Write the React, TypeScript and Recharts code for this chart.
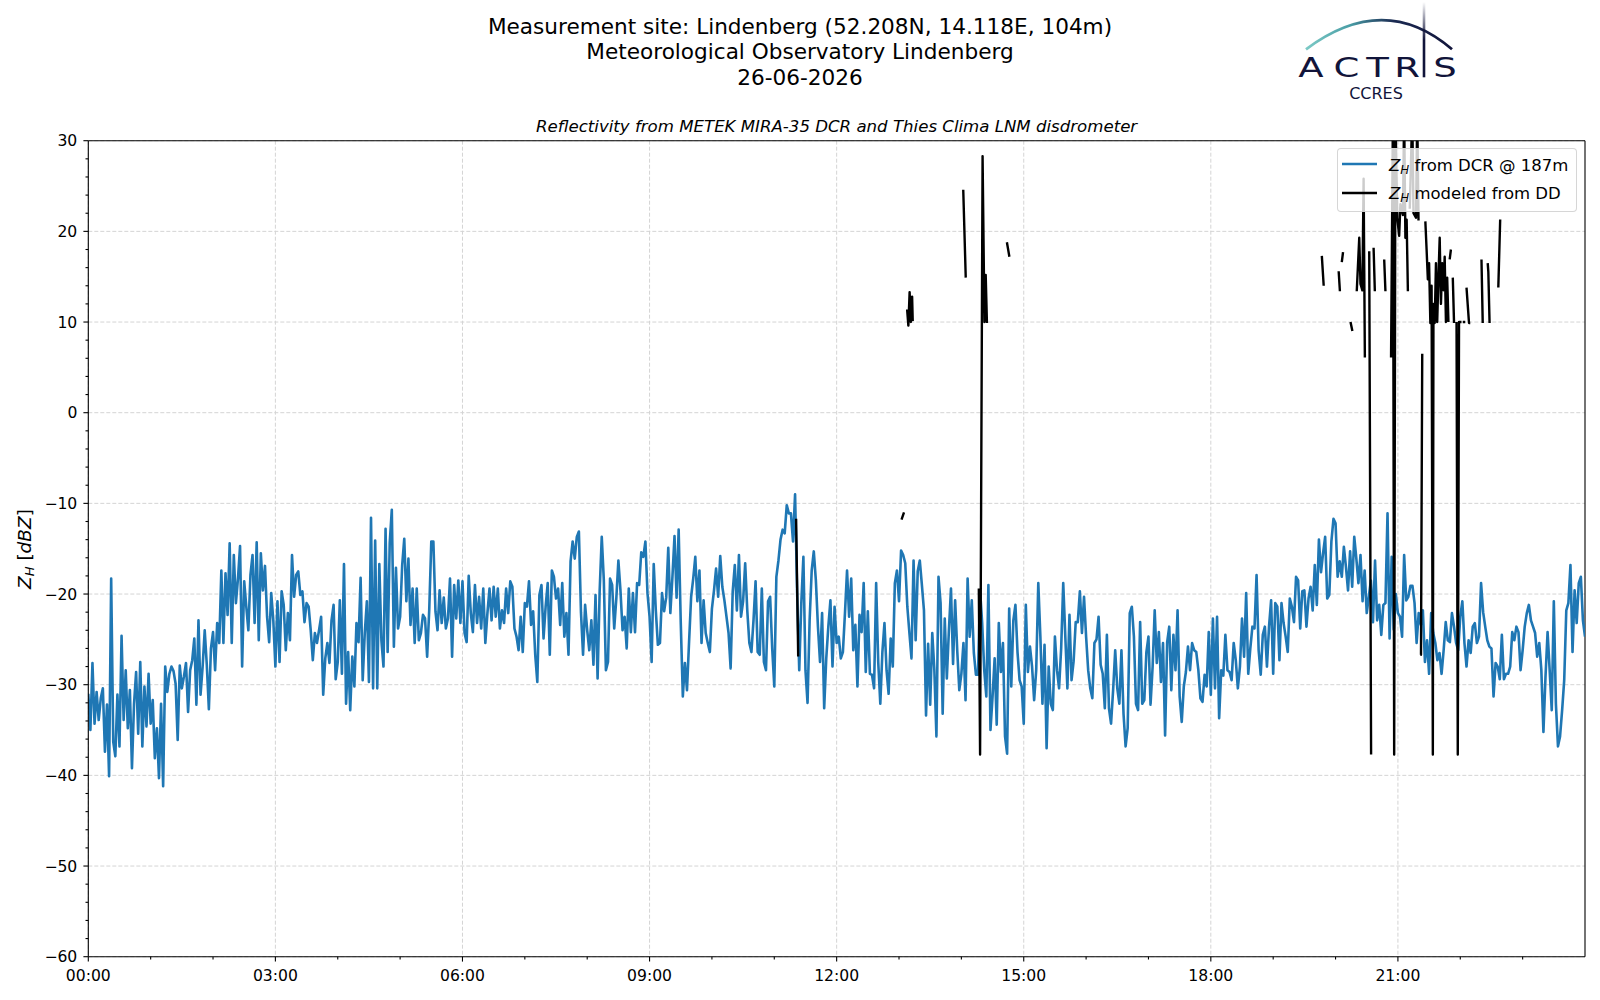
import { LineChart, Line, XAxis, YAxis, CartesianGrid, ReferenceLine } from "recharts";

const FONT = "'DejaVu Sans', sans-serif";
const BLUE = "#1f77b4";
const NAVY = "#11143a";

// DCR reflectivity @187m, 2-minute samples; each block starts at the given minute of the day
const dcrBlockStart = [0, 240, 472, 710, 946, 1180];

const dcr0000 = [
  -31, -35, -27.6, -34.3, -30.8, -33.9, -31.5, -30.4, -37.4, -32.2,
  -40.1, -18.3, -36.3, -37.9, -31.1, -36.8, -24.6, -33.9, -28.4, -34.8,
  -30.6, -39.2, -32.1, -28.6, -35.4, -27.5, -36.8, -30.2, -34.6, -28.8,
  -34.3, -31.7, -38.1, -34.8, -40.3, -32.1, -41.2, -28, -30.8, -28.8,
  -28, -28.5, -29.9, -36.1, -27.9, -30.4, -29.1, -27.6, -33, -28.4,
  -27.3, -24.9, -32.2, -22.9, -31.1, -28, -24, -27.8, -32.7, -26,
  -24.2, -28.4, -23.2, -25.4, -17.4, -25.4, -17.7, -22.3, -14.4, -25.4,
  -15.7, -21, -18.3, -14.7, -28, -18.6, -21.4, -24, -17.9, -15.7,
  -23.2, -14.3, -25.1, -15.5, -19.6, -16.9, -22.5, -25.3, -19.9, -22.9,
  -28, -20.8, -27.5, -19.7, -21.2, -26.2, -22.1, -25.1, -15.7, -20.3,
  -17.9, -17.5, -20.1, -19.7, -23.1, -21, -21.4, -24, -27.3, -24.3,
  -25.4, -24, -22.5, -31.1, -27.1, -25.4, -27.6, -22.9, -21.2, -29.4,
];

const dcr0400 = [
  -27.5, -20.7, -28.8, -16.7, -32.1, -26.4, -32.8, -26.9, -30.2, -23.2,
  -25.3, -18.2, -29.5, -24.3, -20.8, -29.7, -11.6, -30.4, -14.1, -30.4,
  -16.7, -25.1, -28, -12.8, -26.4, -14.4, -10.7, -25.8, -17.1, -23.8,
  -22.5, -16.8, -13.9, -20.8, -16.1, -23.4, -19.4, -25.4, -19.4, -25.1,
  -24.3, -22.3, -22.7, -26.9, -21.8, -14.2, -14.2, -21.9, -24, -19.6,
  -23.2, -20.4, -23.8, -22.7, -18.3, -26.9, -19, -22.7, -18.5, -23.2,
  -18.6, -24.3, -25.3, -18, -22.1, -24.2, -19, -23.2, -20.3, -23.8,
  -19.4, -25.4, -22.1, -19.4, -22.9, -19.2, -22.5, -19.4, -23.8, -21.8,
  -23.2, -19.4, -22.1, -18.6, -19.2, -23.8, -24.7, -26.2, -22.5, -26.4,
  -21, -21.4, -18.6, -23.4, -21.9, -26.7, -29.7, -20.1, -19, -24.9,
  -21.4, -18.8, -26.7, -17.4, -18.1, -20.5, -19.4, -23.4, -18.8, -24.7,
  -22.1, -26.7, -16.4, -14.2, -16.1, -13.7,
];

const dcr0752 = [
  -13.1, -22, -26.7, -21.2, -24, -26.2, -22.9, -27.8, -20.1, -29.3,
  -19.6, -13.7, -18.5, -28.4, -27.5, -18.3, -19, -23.8, -20.5, -16.3,
  -19.6, -24, -22.5, -26, -19.4, -24.2, -19.9, -24.2, -18.8, -19,
  -15.4, -15.9, -14.2, -19.9, -22.5, -27.5, -16.7, -21.8, -25.6, -25.4,
  -19.9, -21.9, -20.4, -14.9, -22.1, -18.1, -13.6, -20.4, -12.9, -23.1,
  -31.3, -27.6, -30.6, -25.3, -20.3, -18.3, -15.9, -20.8, -17.4, -25.4,
  -20.7, -24.3, -25.4, -26.4, -21.6, -19.6, -17.2, -20.3, -15.8, -19.2,
  -20.7, -22.5, -24.3, -28.2, -19.7, -16.8, -21.8, -15.7, -22.5, -20.8,
  -16.6, -21.8, -25.4, -26.4, -22.9, -18.6, -26.4, -26.7, -19.4, -27.5,
  -28.4, -20.8, -20.3, -26, -30.2, -18.1, -16.3, -14, -12.9, -13.3,
  -10.2, -11.1, -11.1, -14.2, -9, -19.9, -28.4, -21, -15.9, -28.4,
  -32, -22.9, -17.4, -15.3, -18.5, -23.6, -27.5, -22.1, -32.6,
];

const dcr1150 = [
  -27.1, -23.6, -20.7, -28, -21.4, -25.4, -24.7, -27.1, -26.4, -22.1,
  -17.4, -22.5, -18.3, -26.2, -23.4, -30.2, -22.3, -24.2, -18.8, -28.6,
  -21.9, -28.8, -28.9, -30.4, -18.8, -27.5, -32.1, -26.4, -23.2, -28.4,
  -31, -24.9, -28, -18.8, -17.4, -20.8, -15.2, -15.7, -16.6, -21.4,
  -24.3, -27.1, -16.3, -25.1, -17.5, -16.3, -19, -21.8, -33.4, -25.5,
  -32.2, -24.3, -28.4, -35.7, -18.1, -21, -33.2, -22.7, -29.3, -24,
  -19.4, -27.7, -20.7, -26.2, -30.6, -28.8, -25.4, -31.7, -18.3, -24.7,
  -20.7, -26.5, -28.9, -28.9, -19.6, -23.2, -28.4, -31.3, -19, -35,
  -31.3, -27.1, -34.4, -23.2, -28.6, -25.4, -35.7, -37.6, -21.6, -30.2,
  -22.9, -21.2, -26.4, -29.5, -30.2, -34.3, -21.2, -28.6, -25.8, -28,
  -31.7, -28.4, -18.8, -24.7, -32.1, -25.6, -37, -28, -32.1, -32.8,
  -24.7, -28.4, -30.4, -26, -18.8, -24.7, -30.4, -22.3,
];

const dcr1546 = [
  -29.5, -27.4, -23.1, -23.1, -19.7, -24.3, -20.3, -24.7, -28.4, -30.4,
  -31.5, -25.4, -25, -22.5, -27.8, -28.8, -32.6, -24.5, -32.6, -34.3,
  -30.6, -26.2, -30.4, -32.1, -26.2, -33.2, -36.8, -34.8, -22.1, -21.4,
  -24.7, -32.1, -32.8, -23.1, -32.1, -31.7, -26.4, -24.7, -32.2, -28,
  -21.8, -27.6, -24.2, -29.7, -25.4, -35.6, -25.3, -23.6, -30.6, -24.5,
  -28.4, -21.8, -31.3, -34.1, -30.2, -28.6, -25.8, -28.4, -25.4, -26.2,
  -26.4, -28.4, -31.5, -31.9, -28.9, -30.2, -24.2, -31.1, -22.7, -30.4,
  -22.5, -33.7, -28.4, -29, -24.5, -28.4, -28.6, -29.5, -25.4, -27.3,
  -30.4, -28, -22.7, -26.9, -19.9, -28.8, -26, -23.6, -23.8, -17.9,
  -26.2, -28.9, -24.5, -23.6, -28, -23.6, -20.7, -28.8, -21, -21.4,
  -27.3, -21, -23.2, -24.7, -26.4, -20.5, -21.4, -23.1, -18.1, -18.5,
  -23.8, -19.7, -19.6, -23.6, -20.5, -19.2, -21.8,
];

const dcr1940 = [
  -16.8, -21.2, -14, -17.6, -15.5, -13.7, -20.5, -20.1, -14.2, -11.7,
  -12.2, -18.1, -16.4, -18.1, -14.8, -17, -19.6, -15.3, -19.2, -13.7,
  -16.1, -18.8, -15.7, -20.8, -17.4, -22.1, -20.3, -18.5, -23.1, -16.3,
  -22.9, -21.2, -24.5, -21.2, -21, -11.1, -24.9, -15.9, -23.9, -20,
  -22.1, -22.5, -24.7, -15.7, -20.7, -20.3, -19.1, -19.1, -21, -25.4,
  -22.1, -23.4, -21.8, -27.5, -25.1, -28.8, -22.1, -24.3, -25.4, -27.3,
  -26.5, -28.8, -26.2, -23.1, -25.1, -25.3, -22.1, -23.6, -25.4, -26.2,
  -22.5, -20.8, -25.4, -28, -25.1, -26.5, -23.6, -23.2, -25.4, -24.7,
  -18.8, -22, -23.6, -25.1, -25.8, -26, -31.3, -27.6, -28, -29.4,
  -24.5, -29.4, -28.8, -28.8, -28, -24.2, -25.1, -23.6, -24.2, -28.4,
  -26.2, -23.6, -22.1, -21.2, -22.9, -23.6, -24.3, -26.9, -25.4, -28.4,
  -35.2, -29.1, -24.2, -28.4, -32.8, -20.8, -32.1, -36.8, -35.7, -32.8,
  -29.5, -21.8, -21, -16.8, -26.4, -19.6, -23.2, -18.8, -18.1, -22.9,
  -24.7,
];

const dcrBlocks = [dcr0000, dcr0400, dcr0752, dcr1150, dcr1546, dcr1940];

// Reflectivity modeled from the disdrometer: [minute of day, dBZ], one list per unbroken piece
const ddSegments: [number, number][][] = [
  [[681, -11.7], [683, -26.9]],
  [[782.4, -11.8], [784.8, -11.0]],
  [[787.8, 11.4], [789, 9.6], [790.2, 13.3], [791.4, 10.0], [792.6, 12.8], [793.2, 10.1]],
  [[841.8, 24.6], [844.2, 14.9]],
  [[856.8, -19.4], [858, -37.7], [860.4, 28.3], [862.2, 10.0], [863.4, 15.2], [864.6, 9.9]],
  [[883.8, 18.8], [886.2, 17.2]],
  [[1186.8, 17.3], [1188.6, 14.0]],
  [[1203, 15.6], [1204.2, 13.4]],
  [[1206, 16.6], [1207.2, 17.7]],
  [[1214.4, 10.0], [1216.2, 9.0]],
  [[1220.4, 13.4], [1222.8, 19.3], [1224, 14.2], [1225.8, 13.5], [1227, 25.8], [1228.2, 6.1]],
  [[1232.4, 17.8], [1234.2, -37.7]],
  [[1236.6, 18.2], [1237.8, 13.4]],
  [[1246.8, 16.9], [1248, 13.4]],
  [[1253.4, 6.1], [1255.2, 33], [1256.4, -37.7], [1257.6, 33], [1259.4, 21.5], [1261.2, 19.5],
   [1262.4, 23], [1264.8, 21.8], [1266, 33], [1267.2, 19.3], [1268.4, 21.3], [1269.6, 13.4]],
  [[1271.4, 22.5], [1273.8, 33], [1275, 22], [1277.4, 21.5], [1278.6, 33], [1279.8, 21.2]],
  [[1281.6, -26.7], [1282.2, -26.7], [1283.4, 6.5]],
  [[1286.4, 21.1], [1287.6, 18], [1288.8, 14.7], [1290, 16.5], [1291.2, 9.9], [1292.4, 14], [1293.6, -37.7],
   [1294.2, 12], [1295.4, 9.9], [1296.6, 16.5], [1297.8, 10], [1299, 15], [1300.2, 19.3], [1301.4, 12],
   [1302.6, 16.5], [1303.8, 13.5], [1305, 17.2], [1306.2, 10], [1307.4, 14.9], [1308.6, 10]],
  [[1309.8, 16.9], [1311, 18]],
  [[1312.8, 14.9], [1314, 9.9]],
  [[1316.4, 10], [1317.6, -37.7], [1318.8, 10], [1321.2, 10]],
  [[1322.4, 10], [1324.8, 10]],
  [[1326, 13.8], [1328.4, 9.9], [1329.6, 9.9]],
  [[1340.4, 16.9], [1341.6, 9.9]],
  [[1346.4, 16.5], [1347, 15.5], [1348.2, 9.9]],
  [[1356.6, 13.8], [1358.4, 21.3]],
];

const xMajor = [0, 180, 360, 540, 720, 900, 1080, 1260];
const xTicks = [0, 60, 120, 180, 240, 300, 360, 420, 480, 540, 600, 660, 720, 780, 840, 900,
  960, 1020, 1080, 1140, 1200, 1260, 1320, 1380];
const yMajor = [-60, -50, -40, -30, -20, -10, 0, 10, 20, 30];
const yTicks = Array.from({ length: 46 }, (_, i) => -60 + 2 * i);

const titleLines = [
  "Measurement site: Lindenberg (52.208N, 14.118E, 104m)",
  "Meteorological Observatory Lindenberg",
  "26-06-2026",
];
const subtitle = "Reflectivity from METEK MIRA-35 DCR and Thies Clima LNM disdrometer";

const dcrData = dcrBlocks.flatMap((block, k) =>
  block.map((z, i) => ({ t: dcrBlockStart[k] + 2 * i, z }))
);
const ddData = ddSegments.flatMap((seg) => [
  ...seg.map(([t, z]) => ({ t, z })),
  { t: seg[seg.length - 1][0] + 0.1, z: null },
]);

const hhmm = (m: number) => `${String(Math.floor(m / 60)).padStart(2, "0")}:00`;
const minus = (v: number) => (v < 0 ? `\u2212${-v}` : `${v}`);

function XTick(props: any) {
  const { x, y, payload } = props;
  const major = payload.value % 180 === 0;
  return (
    <g>
      <line x1={x} y1={y} x2={x} y2={y + (major ? 4.9 : 2.8)} stroke="#000" strokeWidth={1.1} />
      {major && (
        <text x={x} y={y + 24} textAnchor="middle" fontSize={15.6} fontFamily={FONT} fill="#000">
          {hhmm(payload.value)}
        </text>
      )}
    </g>
  );
}

function YTick(props: any) {
  const { x, y, payload } = props;
  const major = payload.value % 10 === 0;
  return (
    <g>
      <line x1={x} y1={y} x2={x - (major ? 4.9 : 2.8)} y2={y} stroke="#000" strokeWidth={1.1} />
      {major && (
        <text x={x - 11} y={y + 5.6} textAnchor="end" fontSize={15.6} fontFamily={FONT} fill="#000">
          {minus(payload.value)}
        </text>
      )}
    </g>
  );
}

const titleBaselines = [34.1, 59.3, 84.5];

function Overlay() {
  return (
    <svg width={1600} height={1000} style={{ position: "absolute", left: 0, top: 0, pointerEvents: "none" }}>
      <defs>
        <linearGradient id="arcGrad" gradientUnits="userSpaceOnUse" x1={1306} y1={0} x2={1452} y2={0}>
          <stop offset="0" stopColor="#7ccac6" />
          <stop offset="0.3" stopColor="#4a9ea6" />
          <stop offset="0.6" stopColor="#1b2a52" />
          <stop offset="1" stopColor={NAVY} />
        </linearGradient>
        <linearGradient id="poleGrad" gradientUnits="userSpaceOnUse" x1={0} y1={2} x2={0} y2={40}>
          <stop offset="0" stopColor={NAVY} stopOpacity={0} />
          <stop offset="1" stopColor={NAVY} stopOpacity={1} />
        </linearGradient>
      </defs>
      <g fontSize={21.6} fontFamily={FONT} fill="#000" textAnchor="middle">
        {titleLines.map((line, i) => (
          <text key={line} x={800} y={titleBaselines[i]}>{line}</text>
        ))}
      </g>
      <text x={836.6} y={131.7} fontSize={16.6} fontStyle="italic" fontFamily={FONT} fill="#000" textAnchor="middle">
        {subtitle}
      </text>
      <text transform="translate(30.5,549) rotate(-90)" textAnchor="middle" fontFamily={FONT} fontSize={18.5} fill="#000">
        <tspan fontStyle="italic">Z</tspan>
        <tspan fontStyle="italic" fontSize={13} dy={3.8}>H</tspan>
        <tspan dy={-3.8}> [</tspan>
        <tspan fontStyle="italic">dBZ</tspan>
        <tspan>]</tspan>
      </text>
      <path d="M 1306 49.3 Q 1384 -9 1452 49.3" fill="none" stroke="url(#arcGrad)" strokeWidth={2.8} />
      <line x1={1424} y1={2} x2={1424} y2={77.3} stroke="url(#poleGrad)" strokeWidth={2.6} />
      <g fontFamily={FONT} fontSize={27} fill={NAVY} textAnchor="middle">
        {[["A", 1311], ["C", 1346.5], ["T", 1377.5], ["R", 1407], ["S", 1445]].map(([ch, cx]) => (
          <text key={ch as string} transform={`translate(${cx},77.3) scale(1.37,1)`}>{ch}</text>
        ))}
      </g>
      <text x={1376} y={99} textAnchor="middle" fontFamily={FONT} fontSize={16} fill={NAVY}>
        CCRES
      </text>
    </svg>
  );
}

function LegendBox() {
  return (
    <div
      style={{
        position: "absolute",
        left: 1337,
        top: 148,
        width: 240,
        height: 64,
        boxSizing: "border-box",
        background: "rgba(255,255,255,0.8)",
        border: "1px solid rgba(204,204,204,0.8)",
        borderRadius: 4,
      }}
    >
      <svg width={240} height={64} style={{ position: "absolute", left: -1, top: -1 }}>
        <line x1={5} y1={16} x2={40} y2={16} stroke={BLUE} strokeWidth={2.7} />
        <line x1={5} y1={45} x2={40} y2={45} stroke="#000" strokeWidth={2.7} />
        <g fontFamily={FONT} fontSize={16.5} fill="#000">
          <text x={52} y={22.7}>
            <tspan fontStyle="italic">Z</tspan>
            <tspan fontStyle="italic" fontSize={11.8} dy={3}>H</tspan>
            <tspan dy={-3}> from DCR @ 187m</tspan>
          </text>
          <text x={52} y={51.3}>
            <tspan fontStyle="italic">Z</tspan>
            <tspan fontStyle="italic" fontSize={11.8} dy={3}>H</tspan>
            <tspan dy={-3}> modeled from DD</tspan>
          </text>
        </g>
      </svg>
    </div>
  );
}

export default function App() {
  return (
    <div style={{ position: "absolute", left: 0, top: 0, width: 1600, height: 1000, background: "#fff" }}>
      <LineChart width={1600} height={1000} margin={{ top: 140.7, right: 15, bottom: 0, left: 0 }}>
        <CartesianGrid stroke="#d4d4d4" strokeDasharray="4 2" horizontalValues={yMajor} verticalValues={xMajor} />
        <XAxis
          type="number"
          dataKey="t"
          domain={[0, 1440]}
          ticks={xTicks}
          interval={0}
          height={43.3}
          tickSize={0}
          tickMargin={0}
          tickLine={false}
          tick={<XTick />}
          axisLine={{ stroke: "#000", strokeWidth: 1.1 }}
          allowDataOverflow
        />
        <YAxis
          type="number"
          domain={[-60, 30]}
          ticks={yTicks}
          interval={0}
          width={88.3}
          tickSize={0}
          tickMargin={0}
          tickLine={false}
          tick={<YTick />}
          axisLine={{ stroke: "#000", strokeWidth: 1.1 }}
          allowDataOverflow
        />
        <ReferenceLine y={30} stroke="#000" strokeWidth={1.1} />
        <ReferenceLine x={1440} stroke="#000" strokeWidth={1.1} />
        <Line
          data={dcrData}
          dataKey="z"
          type="linear"
          stroke={BLUE}
          strokeWidth={2.6}
          strokeLinejoin="round"
          dot={false}
          activeDot={false}
          isAnimationActive={false}
        />
        <Line
          data={ddData}
          dataKey="z"
          type="linear"
          stroke="#000"
          strokeWidth={2.4}
          strokeLinejoin="round"
          connectNulls={false}
          dot={false}
          activeDot={false}
          isAnimationActive={false}
        />
      </LineChart>
      <Overlay />
      <LegendBox />
    </div>
  );
}
